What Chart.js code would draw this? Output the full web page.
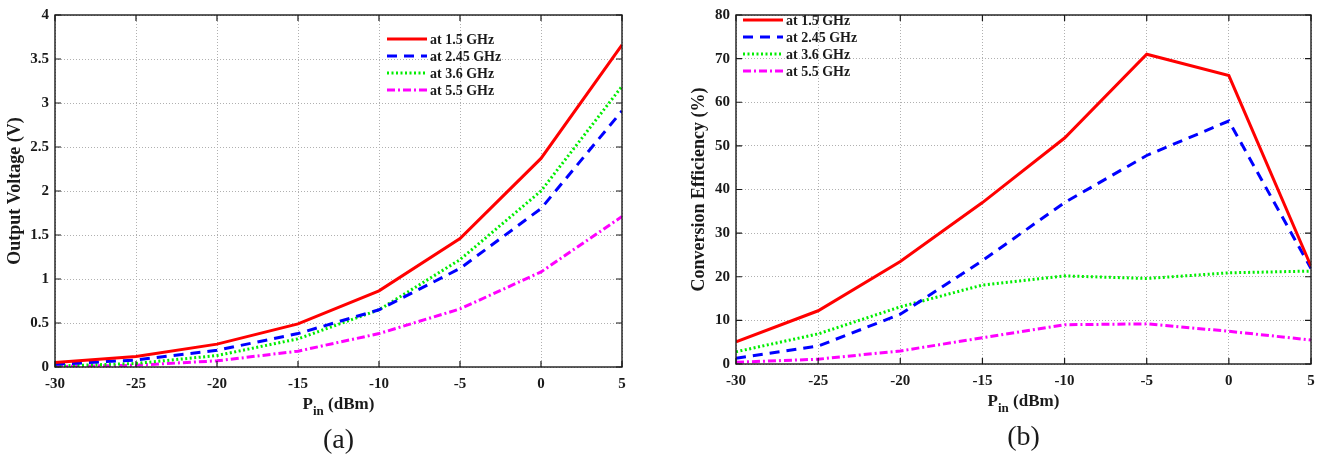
<!DOCTYPE html>
<html>
<head>
<meta charset="utf-8">
<script src="https://cdn.jsdelivr.net/npm/chart.js@4.4.1/dist/chart.umd.min.js"></script>
<style>
  html, body { margin: 0; padding: 0; background: #fff; }
  #wrap { position: relative; width: 1331px; height: 458px; }
  .panel { position: absolute; top: 0; height: 458px; }
</style>
</head>
<body>
<div id="wrap">
  <div class="panel" style="left:0;width:660px"><canvas id="chart-voltage"></canvas></div>
  <div class="panel" style="left:665px;width:666px"><canvas id="chart-efficiency"></canvas></div>
</div>
<script>
const pinLevels = [-30, -25, -20, -15, -10, -5, 0, 5];
const seriesLabels = ['at 1.5 GHz', 'at 2.45 GHz', 'at 3.6 GHz', 'at 5.5 GHz'];

// output voltage (V)
const voltage1500 = [0.05, 0.12, 0.26, 0.49, 0.865, 1.46, 2.37, 3.66];
const voltage2450 = [0.03, 0.08, 0.19, 0.38, 0.65, 1.12, 1.80, 2.91];
const voltage3600 = [0.01, 0.04, 0.13, 0.32, 0.65, 1.22, 2.00, 3.19];
const voltage5500 = [0.005, 0.02, 0.07, 0.18, 0.38, 0.66, 1.08, 1.71];

// conversion efficiency (%)
const efficiency1500 = [5.1, 12.2, 23.5, 37.0, 51.8, 71.0, 66.1, 22.4];
const efficiency2450 = [1.3, 4.1, 11.4, 23.7, 37.0, 47.8, 55.7, 21.9];
const efficiency3600 = [2.8, 6.9, 13.1, 18.1, 20.2, 19.6, 20.9, 21.3];
const efficiency5500 = [0.4, 1.1, 3.0, 6.0, 9.0, 9.2, 7.5, 5.5];

const SERIF = "'Liberation Serif', 'Times New Roman', serif";
const INK = '#1a1a1a';

const lineStyles = [
  { color: '#ff0000', dash: [] },
  { color: '#0000ff', dash: [10, 7] },
  { color: '#00ee00', dash: [2, 2.5] },
  { color: '#ff00ff', dash: [8, 3, 2, 3] }
];

function makeDatasets(seriesList) {
  return seriesList.map((values, index) => ({
    label: seriesLabels[index],
    data: values.map((y, i) => ({ x: pinLevels[i], y })),
    borderColor: lineStyles[index].color,
    borderDash: lineStyles[index].dash,
    borderWidth: 3,
    pointRadius: 0,
    fill: false,
    tension: 0
  }));
}

// box, inward ticks, x title with subscript, caption and in-plot legend
const framePlugin = {
  id: 'frame',
  afterDraw(chart, args, opts) {
    const { ctx, chartArea: area, scales } = chart;
    const { left, right, top, bottom } = area;
    ctx.save();
    ctx.strokeStyle = INK;
    ctx.lineWidth = 1.2;
    ctx.setLineDash([]);
    ctx.beginPath();
    scales.x.ticks.forEach((tick) => {
      const px = scales.x.getPixelForValue(tick.value);
      ctx.moveTo(px, bottom); ctx.lineTo(px, bottom - 6);
      ctx.moveTo(px, top); ctx.lineTo(px, top + 6);
    });
    scales.y.ticks.forEach((tick) => {
      const py = scales.y.getPixelForValue(tick.value);
      ctx.moveTo(left, py); ctx.lineTo(left + 6, py);
      ctx.moveTo(right, py); ctx.lineTo(right - 6, py);
    });
    ctx.stroke();
    ctx.lineWidth = 1.4;
    ctx.strokeRect(left, top, right - left, bottom - top);

    // x axis title: P_in (dBm)
    const mainFont = `bold 17px ${SERIF}`;
    const subFont = `bold 13px ${SERIF}`;
    ctx.fillStyle = INK;
    ctx.textBaseline = 'alphabetic';
    ctx.font = mainFont;
    const wP = ctx.measureText('P').width;
    const wRest = ctx.measureText(' (dBm)').width;
    ctx.font = subFont;
    const wSub = ctx.measureText('in').width;
    let x = (left + right) / 2 - (wP + wSub + wRest) / 2;
    const baseY = bottom + opts.titleOffset;
    ctx.font = mainFont;
    ctx.textAlign = 'left';
    ctx.fillText('P', x, baseY);
    x += wP;
    ctx.font = subFont;
    ctx.fillText('in', x, baseY + 6);
    x += wSub;
    ctx.font = mainFont;
    ctx.fillText(' (dBm)', x, baseY);

    // caption
    ctx.font = `28px ${SERIF}`;
    ctx.textAlign = 'center';
    ctx.fillText(opts.caption, (left + right) / 2, bottom + opts.captionOffset);

    // legend
    ctx.font = `bold 14px ${SERIF}`;
    ctx.textAlign = 'left';
    ctx.textBaseline = 'middle';
    chart.data.datasets.forEach((ds, i) => {
      const y = opts.legendY + i * 17;
      ctx.strokeStyle = ds.borderColor;
      ctx.lineWidth = 3;
      ctx.setLineDash(ds.borderDash);
      ctx.beginPath();
      ctx.moveTo(opts.legendX, y);
      ctx.lineTo(opts.legendX + 40, y);
      ctx.stroke();
      ctx.setLineDash([]);
      ctx.fillStyle = INK;
      ctx.fillText(ds.label, opts.legendX + 43, y + 1);
    });
    ctx.restore();
  }
};

function buildChart(canvasId, setup) {
  return new Chart(document.getElementById(canvasId), {
    type: 'line',
    data: { datasets: makeDatasets(setup.series) },
    plugins: [framePlugin],
    options: {
      animation: false,
      responsive: true,
      maintainAspectRatio: false,
      layout: { padding: setup.padding },
      plugins: {
        legend: { display: false },
        tooltip: { enabled: false },
        frame: setup.frame
      },
      scales: {
        x: {
          type: 'linear',
          min: -30,
          max: 5,
          afterFit: (scale) => { scale.height = setup.xHeight; },
          ticks: {
            stepSize: 5,
            color: INK,
            padding: 8,
            maxRotation: 0,
            font: { family: SERIF, weight: 'bold', size: 15 }
          },
          grid: { color: '#b0b0b0', lineWidth: 1, drawTicks: false },
          border: { display: false, dash: [1, 2] }
        },
        y: {
          type: 'linear',
          min: 0,
          max: setup.yMax,
          afterFit: (scale) => { scale.width = setup.yWidth; },
          title: {
            display: true,
            text: setup.yTitle,
            color: INK,
            padding: { top: setup.yTitlePad, bottom: 0 },
            font: { family: SERIF, weight: 'bold', size: 18 }
          },
          ticks: {
            stepSize: setup.yStep,
            color: INK,
            padding: 6,
            callback: (value) => String(value),
            font: { family: SERIF, weight: 'bold', size: 15 }
          },
          grid: { color: '#b0b0b0', lineWidth: 1, drawTicks: false },
          border: { display: false, dash: [1, 2] }
        }
      }
    }
  });
}

buildChart('chart-voltage', {
  series: [voltage1500, voltage2450, voltage3600, voltage5500],
  padding: { top: 10, right: 38, left: 0, bottom: 0 },
  xHeight: 91,
  yWidth: 55,
  yMax: 4,
  yStep: 0.5,
  yTitle: 'Output Voltage (V)',
  yTitlePad: 5,
  frame: { caption: '(a)', titleOffset: 42, captionOffset: 81, legendX: 387, legendY: 39 }
});

buildChart('chart-efficiency', {
  series: [efficiency1500, efficiency2450, efficiency3600, efficiency5500],
  padding: { top: 7, right: 20, left: 0, bottom: 0 },
  xHeight: 94,
  yWidth: 71,
  yMax: 80,
  yStep: 10,
  yTitle: 'Conversion Efficiency (%)',
  yTitlePad: 24,
  frame: { caption: '(b)', titleOffset: 42, captionOffset: 81, legendX: 78, legendY: 20 }
});
</script>
</body>
</html>
